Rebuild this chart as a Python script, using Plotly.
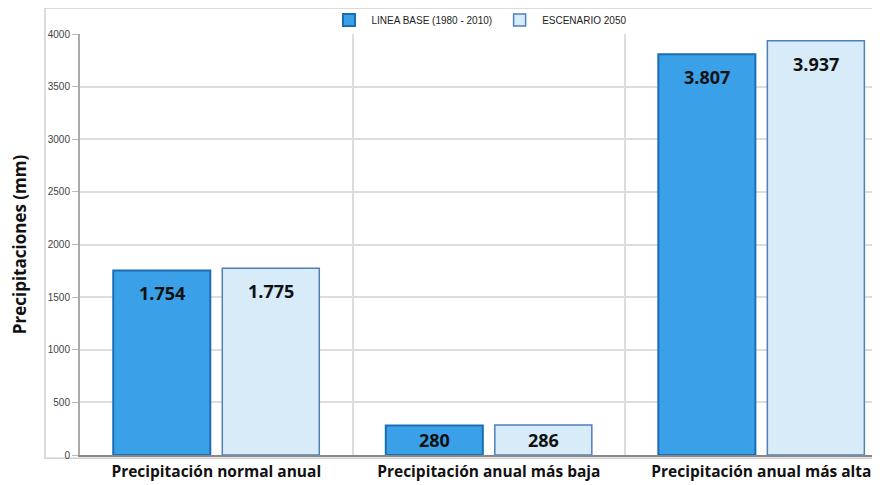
import plotly.graph_objects as go

categories = ["Precipitación normal anual", "Precipitación anual más baja", "Precipitación anual más alta"]
linea_base = [1754, 280, 3807]
escenario_2050 = [1775, 286, 3937]
series_names = ["LINEA BASE (1980 - 2010)", "ESCENARIO 2050"]
y_ticks = [0, 500, 1000, 1500, 2000, 2500, 3000, 3500, 4000]

xpos = list(range(len(categories)))
BARGAP = 0.2
slot = (1 - BARGAP) / 2  # width of each bar slot within a category

label_font = dict(family="Open Sans", size=18, color="#111111", weight="bold")

fig = go.Figure()
fig.add_trace(go.Bar(
    x=xpos, y=linea_base, name=series_names[0],
    marker=dict(color="#3aa0e8", line=dict(color="#1a6db3", width=2)),
))
fig.add_trace(go.Bar(
    x=xpos, y=escenario_2050, name=series_names[1],
    marker=dict(color="#d7ebf9", line=dict(color="#4f7fbd", width=1.5)),
))

# value labels inside each bar: near the top for tall bars, centred for short ones
for series, off in ((linea_base, -slot / 2), (escenario_2050, slot / 2)):
    for xi, v in zip(xpos, series):
        short = v < 500
        fig.add_annotation(
            x=xi + off, y=(v / 2 if short else v), xref="x", yref="y",
            text=f"{v:,}".replace(",", "."),
            showarrow=False,
            yanchor=("middle" if short else "top"),
            yshift=(0 if short else -9),
            font=label_font,
        )

# page body has an 8px margin; figure is sized/offset to compensate
fig.update_layout(
    width=872, height=477,
    margin=dict(l=72, r=2, t=26, b=30, autoexpand=False),
    paper_bgcolor="white", plot_bgcolor="white",
    barmode="group", bargap=BARGAP, bargroupgap=0.11,
    showlegend=True,
    legend=dict(orientation="h", x=0.5, xanchor="center", y=1.033, yanchor="middle",
                font=dict(family="Liberation Sans", size=10, color="#222222"),
                itemwidth=35, traceorder="normal", bgcolor="rgba(0,0,0,0)"),
    font=dict(family="Liberation Sans"),
)

fig.update_xaxes(
    range=[-0.5, 2.428],
    tickvals=xpos, ticktext=categories,
    tickfont=dict(family="Open Sans", size=15.5, color="#111111", weight="bold"),
    showgrid=False, zeroline=False,
    showline=True, linecolor="#888888", linewidth=1.5,
    ticks="", ticklabelstandoff=2,
    minor=dict(tickvals=[0.5, 1.5], showgrid=True, gridcolor="#dddddd", gridwidth=1.5, ticks=""),
)
fig.update_yaxes(
    range=[0, 4000],
    tickvals=y_ticks, tickformat="d",
    tickfont=dict(family="Liberation Sans", size=10, color="#444444"),
    showgrid=True, gridcolor="#dddddd", gridwidth=1.5,
    zeroline=False,
    showline=True, linecolor="#aaaaaa", linewidth=2,
    ticks="outside", ticklen=6, tickcolor="#bbbbbb",
    title=dict(text="Precipitaciones (mm)", standoff=18,
               font=dict(family="Open Sans", size=17, color="#111111", weight="bold")),
)

# outer frame of chart area
fig.add_shape(type="rect", xref="paper", yref="paper",
              x0=-0.0439, x1=1.05, y0=-0.008, y1=1.062,
              line=dict(color="#d0d0d0", width=1.5), fillcolor="rgba(0,0,0,0)", layer="below")

fig.write_html("out.html")
